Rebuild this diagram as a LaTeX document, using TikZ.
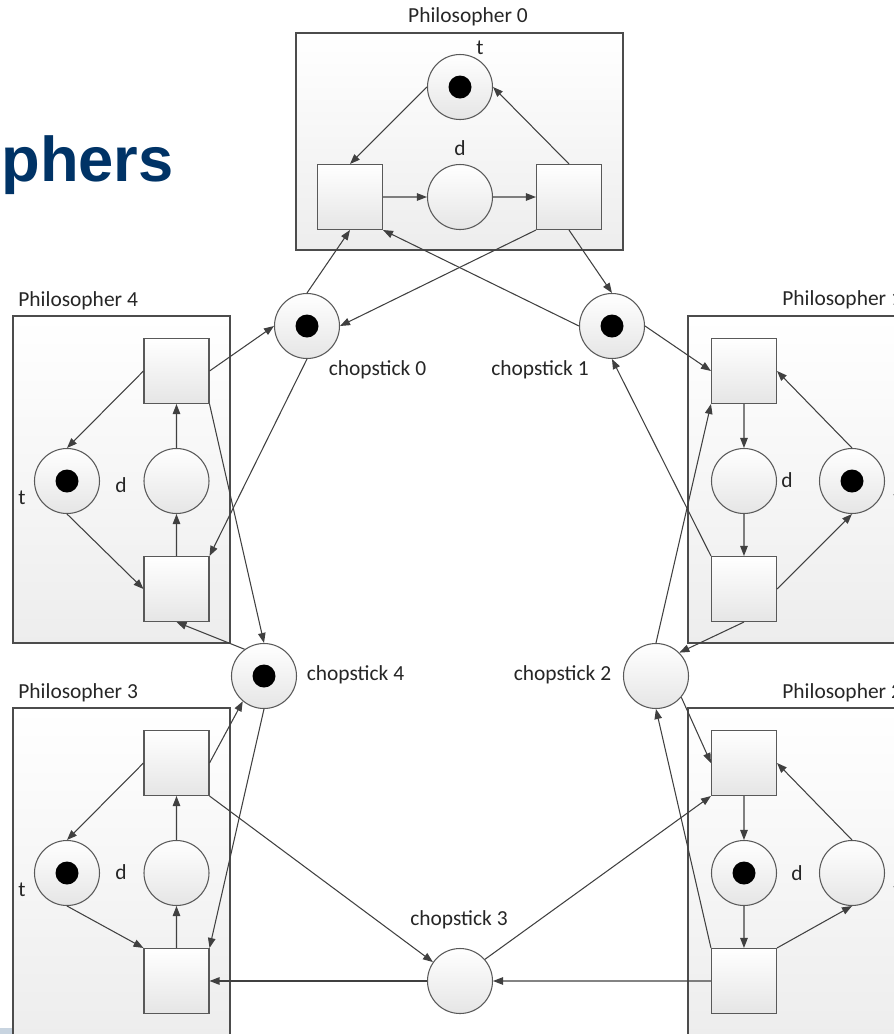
\documentclass[tikz,border=0pt]{standalone}
\usepackage{fontspec}
\setmainfont{Carlito}
\newfontfamily\headfont{Liberation Sans}
\usetikzlibrary{arrows.meta}
\definecolor{headblue}{RGB}{0,51,102}
\definecolor{arcgray}{RGB}{64,64,64}
\definecolor{stripblue}{RGB}{200,212,224}

\begin{document}
\begin{tikzpicture}[scale=0.2,
  every node/.append style={inner sep=0pt},
  place/.style={circle,draw=black!65,line width=0.6pt,top color=white,bottom color=black!10,minimum size=1.3cm},
  marked/.style={place,path picture={\fill [black] (path picture bounding box.center) circle (0.23cm);}},
  trans/.style={rectangle,draw=black!65,line width=0.6pt,top color=white,bottom color=black!10,minimum size=1.3cm},
  phbox/.style={rectangle,draw=black!70,line width=0.6pt,top color=white,bottom color=black!7},
  arc/.style={draw=arcgray,line width=0.6pt,-{Triangle[length=2mm,width=1.5mm]}},
  lbl/.style={text=black!85,font=\fontsize{12.2}{14.6}\selectfont},
  head/.style={text=headblue,font=\headfont\bfseries\fontsize{36}{40}\selectfont}]
\useasboundingbox (0,0) rectangle (89.4,-103.4);
\fill [stripblue] (0,-102.8) rectangle (1.25,-103.4);
\node [head,anchor=base west] (ttl) at (0.1,-18.1) {phers};
\node [phbox,minimum width=6.54cm,minimum height=4.34cm] (ph0) at (45.95,-14.15) {};
\node [phbox,minimum width=4.34cm,minimum height=6.54cm] (ph4) at (12.15,-47.95) {};
\node [phbox,minimum width=4.34cm,minimum height=6.54cm] (ph1) at (79.65,-47.95) {};
\node [phbox,minimum width=4.34cm,minimum height=6.54cm] (ph3) at (12.15,-87.15) {};
\node [phbox,minimum width=4.34cm,minimum height=6.54cm] (ph2) at (79.65,-87.15) {};
\node [lbl] (lp0) at (46.8,-1.7) {Philosopher 0};
\node [lbl,anchor=west] (lp4) at (1.8,-30.1) {Philosopher 4};
\node [lbl,anchor=west] (lp1) at (78.2,-30) {Philosopher 1};
\node [lbl,anchor=west] (lp3) at (1.8,-69.3) {Philosopher 3};
\node [lbl,anchor=west] (lp2) at (78.2,-69.3) {Philosopher 2};
\node [marked] (t0) at (46,-8.7) {};
\node [place] (d0) at (46,-19.7) {};
\node [trans] (a0) at (35,-19.7) {};
\node [trans] (b0) at (56.9,-19.7) {};
\node [marked] (t4) at (6.7,-48.1) {};
\node [place] (d4) at (17.65,-48.1) {};
\node [trans] (b4) at (17.65,-37.1) {};
\node [trans] (a4) at (17.65,-58.9) {};
\node [trans] (a1) at (74.4,-37.1) {};
\node [place] (d1) at (74.4,-48.1) {};
\node [marked] (t1) at (85.2,-48.1) {};
\node [trans] (b1) at (74.4,-58.9) {};
\node [trans] (b3) at (17.65,-76.3) {};
\node [place] (d3) at (17.65,-87.3) {};
\node [marked] (t3) at (6.7,-87.3) {};
\node [trans] (a3) at (17.65,-98.1) {};
\node [trans] (a2) at (74.4,-76.3) {};
\node [marked] (d2) at (74.4,-87.3) {};
\node [place] (t2) at (85.2,-87.3) {};
\node [trans] (b2) at (74.4,-98.1) {};
\node [marked] (c0) at (30.7,-32.6) {};
\node [marked] (c1) at (61.2,-32.6) {};
\node [marked] (c4) at (26.4,-67.6) {};
\node [place] (c2) at (65.6,-67.6) {};
\node [place] (c3) at (46,-98.1) {};
\node [lbl] (lt0) at (48,-4.8) {t};
\node [lbl] (ld0) at (46,-14.8) {d};
\node [lbl] (ld4) at (12.1,-48.5) {d};
\node [lbl] (lt4) at (2.2,-49.8) {t};
\node [lbl] (ld1) at (78.7,-48) {d};
\node [lbl] (lt1) at (89.7,-49.8) {t};
\node [lbl] (ld3) at (12.1,-87.2) {d};
\node [lbl] (lt3) at (2.2,-89) {t};
\node [lbl] (ld2) at (79.7,-87.3) {d};
\node [lbl] (lt2) at (89.7,-89) {t};
\node [lbl] (lc0) at (37.75,-37) {chopstick 0};
\node [lbl] (lc1) at (54,-37) {chopstick 1};
\node [lbl] (lc4) at (35.55,-67.5) {chopstick 4};
\node [lbl] (lc2) at (56.25,-67.5) {chopstick 2};
\node [lbl] (lc3) at (45.9,-92) {chopstick 3};
\draw [arc] (t0.west) -- (a0.north);
\draw [arc] (b0.north) -- (t0.east);
\draw [arc] (a0) -- (d0);
\draw [arc] (d0) -- (b0);
\draw [arc] (c0.north) -- (a0.south);
\draw [arc] (c1.west) -- (a0.south east);
\draw [arc] (b0.south west) -- (c0.east);
\draw [arc] (b0.south) -- (c1.north);
\draw [arc] (a4) -- (d4);
\draw [arc] (d4) -- (b4);
\draw [arc] (b4.west) -- (t4.north);
\draw [arc] (t4.south) -- (a4.west);
\draw [arc] (b4.east) -- (c0.west);
\draw [arc] (b4.south east) -- (c4.north);
\draw [arc] (c0.south) -- (a4.north east);
\draw [arc] (c4.126) -- (a4.south);
\draw [arc] (a1) -- (d1);
\draw [arc] (d1) -- (b1);
\draw [arc] (t1.north) -- (a1.east);
\draw [arc] (b1.east) -- (t1.south);
\draw [arc] (c1.east) -- (a1.west);
\draw [arc] (c2.north) -- (a1.south west);
\draw [arc] (b1.north west) -- (c1.south);
\draw [arc] (b1.south) -- (c2.45);
\draw [arc] (a3) -- (d3);
\draw [arc] (d3) -- (b3);
\draw [arc] (b3.west) -- (t3.north);
\draw [arc] (t3.south) -- (a3.north west);
\draw [arc] (b3.east) -- (c4.230);
\draw [arc] (c4.south) -- (a3.north east);
\draw [arc] (b3.south east) -- (c3.145);
\draw [arc] (c3) -- (a3);
\draw [arc] (a2) -- (d2);
\draw [arc] (d2) -- (b2);
\draw [arc] (t2.north) -- (a2.east);
\draw [arc] (b2.north east) -- (t2.south);
\draw [arc] (c2.-40) -- (a2.west);
\draw [arc] (c3.41) -- (a2.south west);
\draw [arc] (b2.north west) -- (c2.south);
\draw [arc] (b2) -- (c3);
\end{tikzpicture}
\end{document}
